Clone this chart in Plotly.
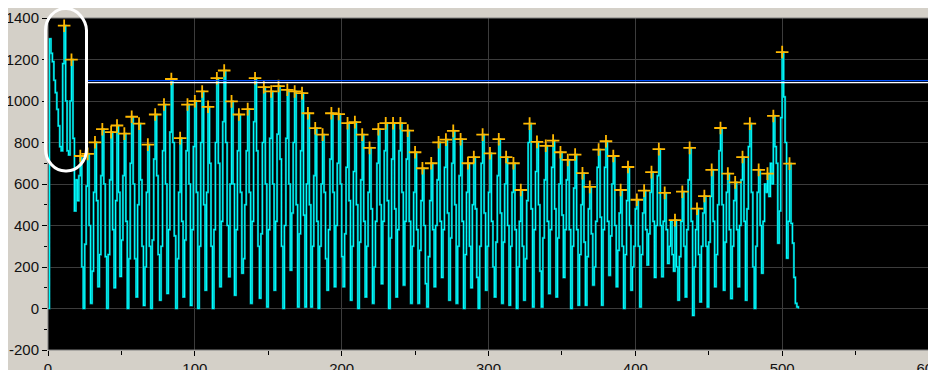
import plotly.graph_objects as go

# ---------------- data ----------------
# sampled signal, one value per integer sample index (rows start at a detected peak)
signal = (
    [0, 1300, 1230, 1190, 1100, 1040, 960, 880, 780, 760, 1180]
    + [1363, 1000, 760, 740, 1000]
    + [1199, 820, 470, 620, 520, 640]
    + [735, 200, 0, 310, 590]
    + [745, 400, 25, 180, 560]
    + [801, 520, 105, 260, 640]
    + [864, 600, 250, 0, 260, 620]
    + [850, 380, 100, 520]
    + [882, 560, 155, 330, 640]
    + [843, 420, 0, 240, 700]
    + [924, 600, 240, 56, 500]
    + [891, 620, 300, 15, 200, 560]
    + [790, 300, 0, 330, 720]
    + [935, 640, 260, 40, 300, 760]
    + [983, 600, 73, 380, 850]
    + [1106, 800, 350, 0, 240, 560]
    + [821, 420, 56, 330, 760]
    + [983, 600, 15, 380, 780]
    + [999, 560, 0, 300, 800]
    + [1046, 500, 88, 560]
    + [972, 700, 300, 0, 380, 800]
    + [1110, 700, 105, 420, 900]
    + [1147, 800, 400, 153, 600]
    + [998, 600, 64, 380, 760]
    + [935, 560, 170, 240, 500, 760]
    + [961, 560, 25, 420, 900]
    + [1110, 760, 300, 50, 360, 800]
    + [1067, 600, 8, 380, 820]
    + [1046, 600, 88, 420, 840]
    + [1072, 720, 300, 0, 400, 820]
    + [1054, 600, 185, 460, 800]
    + [1046, 500, 8, 360, 760]
    + [1038, 450, 8, 600]
    + [941, 500, 8, 300, 640]
    + [869, 420, 0, 300, 600]
    + [838, 560, 240, 88, 380, 720]
    + [941, 560, 105, 400, 700]
    + [937, 600, 250, 105, 360, 680]
    + [893, 520, 40, 300, 660]
    + [898, 500, 0, 320, 620]
    + [838, 420, 56, 300, 560]
    + [774, 480, 25, 200, 420, 700]
    + [864, 500, 120, 420, 760]
    + [893, 520, 0, 340, 720]
    + [893, 480, 56, 380, 760]
    + [893, 560, 113, 420, 720]
    + [857, 420, 25, 300, 560]
    + [753, 380, 25, 280, 520]
    + [676, 400, 120, 8, 250, 520]
    + [700, 380, 105, 400, 620]
    + [801, 420, 150, 380, 680]
    + [814, 460, 40, 340, 700]
    + [856, 500, 25, 300, 640]
    + [816, 420, 0, 260, 560]
    + [700, 300, 100, 500]
    + [730, 480, 150, 0, 300, 700]
    + [838, 460, 88, 300, 560]
    + [748, 420, 200, 56, 320, 640]
    + [816, 460, 25, 320, 600]
    + [730, 400, 16, 300, 560]
    + [700, 380, 0, 200, 420]
    + [571, 300, 40, 240, 520, 800]
    + [891, 480, 8, 380, 660]
    + [803, 500, 180, 8, 340, 620]
    + [784, 420, 72, 380, 680]
    + [809, 480, 56, 340, 600]
    + [753, 450, 150, 380, 620]
    + [716, 380, 0, 300, 580]
    + [742, 380, 16, 260, 500]
    + [652, 320, 16, 250, 480]
    + [586, 360, 113, 200, 420, 680]
    + [766, 440, 16, 380, 680]
    + [806, 420, 160, 350, 600]
    + [735, 400, 105, 280, 460]
    + [571, 300, 0, 260, 520]
    + [682, 400, 88, 200, 300, 480]
    + [524, 300, 8, 260, 460]
    + [568, 380, 210, 360, 560]
    + [657, 420, 150, 400, 640]
    + [768, 400, 153, 420]
    + [557, 380, 217, 300, 420, 260, 180]
    + [426, 200, 40, 250, 420]
    + [563, 300, 56, 380, 620]
    + [774, 420, -33, 200, 380]
    + [481, 260, 32, 300, 460]
    + [542, 300, 8, 320, 540]
    + [668, 420, 105, 260, 500, 760]
    + [870, 500, 88, 320, 560]
    + [650, 380, 48, 300, 520]
    + [608, 380, 105, 400, 620]
    + [730, 420, 40, 480, 780]
    + [891, 560, 200, 0, 300, 560]
    + [668, 400, 170, 420, 600, 560]
    + [650, 540, 700, 600]
    + [928, 780, 700, 315, 470, 920]
    + [1236, 1020, 800, 243, 420]
    + [698, 410, 315, 150, 25, 8, 0]
)
sample_x = list(range(len(signal)))

# detected peaks (orange + markers)
peak_x = [11, 16, 22, 27, 32, 37, 43, 47, 52, 57, 62, 68, 73, 79, 84, 90, 95, 100, 105, 109,
          115, 120, 125, 130, 136, 141, 147, 152, 157, 163, 168, 173, 177, 182, 187, 193, 198, 204, 209, 214,
          219, 225, 230, 235, 240, 245, 250, 255, 261, 266, 271, 276, 281, 286, 290, 296, 301, 307, 312, 317,
          322, 328, 333, 339, 344, 349, 354, 359, 364, 369, 375, 380, 385, 390, 395, 401, 406, 411, 416, 420,
          427, 432, 437, 442, 447, 452, 458, 463, 468, 473, 478, 484, 490, 494, 500, 505]
peak_y = [1363, 1199, 735, 745, 801, 864, 850, 882, 843, 924, 891, 790, 935, 983, 1106, 821, 983, 999, 1046, 972,
          1110, 1147, 998, 935, 961, 1110, 1067, 1046, 1072, 1054, 1046, 1038, 941, 869, 838, 941, 937, 893, 898, 838,
          774, 864, 893, 893, 893, 857, 753, 676, 700, 801, 814, 856, 816, 700, 730, 838, 748, 816, 730, 700,
          571, 891, 803, 784, 809, 753, 716, 742, 652, 586, 766, 806, 735, 571, 682, 524, 568, 657, 768, 557,
          426, 563, 774, 481, 542, 668, 870, 650, 608, 730, 891, 668, 650, 928, 1236, 698]

threshold_white = 1089
threshold_blue = 1098
threshold_start = 26.5

x_ticks = [0, 100, 200, 300, 400, 500, 600]
y_ticks = [-200, 0, 200, 400, 600, 800, 1000, 1200, 1400]

for px_, py_ in zip(peak_x, peak_y):
    assert signal[px_] == py_, (px_, signal[px_], py_)

# ---------------- figure ----------------
# the page body adds an 8px white margin at top/left
W, H = 928, 362
ML, MR, MT, MB = 40, 7, 10, 20
PW, PH = W - ML - MR, H - MT - MB
OFF = 8

fig = go.Figure()
fig.add_trace(go.Scatter(x=sample_x, y=signal, mode="lines",
                         line=dict(color="#007f86", width=2.2, shape="hv"),
                         hoverinfo="skip", showlegend=False))
fig.add_trace(go.Scatter(x=sample_x, y=signal, mode="lines",
                         line=dict(color="#00ffff", width=1.1, shape="hv"), showlegend=False))
fig.add_trace(go.Scatter(x=peak_x, y=peak_y, mode="markers",
                         marker=dict(symbol="cross-thin", size=9,
                                     line=dict(color="#ffb800", width=1.8)),
                         showlegend=False))

def px2paper(px, py):
    # screen pixel -> paper coordinates
    return (px - OFF - ML) / PW, (H - MB - (py - OFF)) / PH

shapes = []
# plot frame
shapes.append(dict(type="rect", xref="paper", yref="paper", x0=0, x1=1, y0=0, y1=1,
                   line=dict(color="#808080", width=1), fillcolor="rgba(0,0,0,0)"))
# threshold lines
shapes.append(dict(type="line", xref="x", yref="y", x0=threshold_start, x1=600,
                   y0=threshold_blue, y1=threshold_blue, line=dict(color="#0050ff", width=1.3)))
shapes.append(dict(type="line", xref="x", yref="y", x0=threshold_start, x1=600,
                   y0=threshold_white, y1=threshold_white, line=dict(color="#ffffff", width=1.3)))
# rounded highlight box
bx0, by0 = px2paper(45.5, 8.5)
bx1, by1 = px2paper(86.5, 171)
rx, ry = 20 / PW, 22 / PH
k = 0.45
path = (f"M {bx0+rx},{by0} L {bx1-rx},{by0} "
        f"C {bx1-rx*k},{by0} {bx1},{by0-ry*(1-k)} {bx1},{by0-ry} "
        f"L {bx1},{by1+ry} "
        f"C {bx1},{by1+ry*k} {bx1-rx*k},{by1} {bx1-rx},{by1} "
        f"L {bx0+rx},{by1} "
        f"C {bx0+rx*k},{by1} {bx0},{by1+ry*k} {bx0},{by1+ry} "
        f"L {bx0},{by0-ry} "
        f"C {bx0},{by0-ry*k} {bx0+rx*k},{by0} {bx0+rx},{by0} Z")
shapes.append(dict(type="path", xref="paper", yref="paper", path=path,
                   line=dict(color="#ffffff", width=3), fillcolor="rgba(0,0,0,0)"))

font = dict(family="Liberation Sans, Arial, sans-serif", size=15, color="#111111")
axis_common = dict(showgrid=True, gridcolor="#3c3c3c", gridwidth=1, zeroline=False,
                   ticks="outside", ticklen=5, tickcolor="#000000", tickfont=font,
                   showline=False, fixedrange=True, automargin=False,
                   ticklabeloverflow="allow")
fig.update_layout(
    width=W, height=H,
    margin=dict(l=ML, r=MR, t=MT, b=MB, pad=0, autoexpand=False),
    paper_bgcolor="#d4d0c8", plot_bgcolor="#000000",
    shapes=shapes, showlegend=False, font=font,
    xaxis=dict(range=[0, 600], tickvals=x_ticks, ticktext=[str(v) for v in x_ticks],
               minor=dict(dtick=50, ticks="outside", ticklen=4, tickcolor="#000000", showgrid=False),
               **axis_common),
    yaxis=dict(range=[-200, 1400], tickvals=y_ticks, ticktext=[str(v) for v in y_ticks],
               minor=dict(dtick=100, ticks="outside", ticklen=3, tickcolor="#000000", showgrid=False),
               **axis_common),
)
fig.write_html("out.html")
